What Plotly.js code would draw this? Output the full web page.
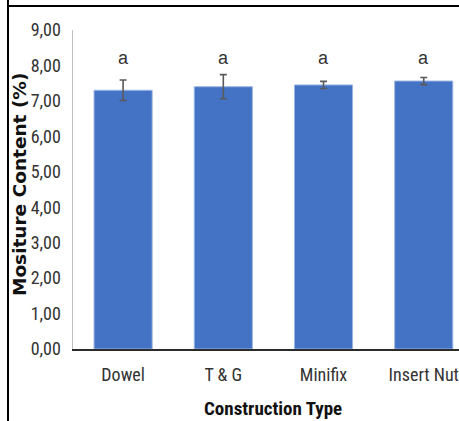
<!DOCTYPE html>
<html>
<head>
<meta charset="utf-8">
<script src="https://cdn.plot.ly/plotly-3.0.1.min.js"></script>
<style>
  html, body { margin: 0; padding: 0; background: #fff; }
  #chart { width: 459px; height: 421px; }
</style>
</head>
<body>
<div id="chart"></div>
<script>
// Moisture content by construction type (mean ± sd), with significance letters
const categories = ['Dowel', 'T & G', 'Minifix', 'Insert Nut'];
const moisture = [7.30, 7.40, 7.45, 7.56];
const stdDev = [0.29, 0.34, 0.10, 0.10];
const groupLetters = ['a', 'a', 'a', 'a'];
const letterLevel = 8.22;
const yTicks = [0, 1, 2, 3, 4, 5, 6, 7, 8, 9];
const yTickText = yTicks.map(v => v.toFixed(2).replace('.', ','));
const xTitle = 'Construction Type';
const yTitle = 'Mositure Content (%)';

const narrow = '"Roboto Condensed", "Liberation Sans Narrow", "Arial Narrow", Roboto, Arial, sans-serif';

// plot area: 386 px wide (category step ~100 px), 319 px tall
const plotW = 386, plotH = 319;

const trace = {
  type: 'bar',
  x: categories,
  y: moisture,
  width: 0.58,
  marker: { color: '#4472C4', line: { color: '#9db5e3', width: 1 } },
  error_y: {
    type: 'data',
    array: stdDev,
    visible: true,
    color: '#5a5a5a',
    thickness: 1.6,
    width: 3.5
  },
  hoverinfo: 'none'
};

const letterNotes = categories.map((c, i) => ({
  x: c,
  y: letterLevel,
  xref: 'x',
  yref: 'y',
  text: groupLetters[i],
  showarrow: false,
  yanchor: 'middle',
  font: { family: '"Liberation Sans", Arial, sans-serif', size: 18, color: '#333' }
}));

const titleNotes = [
  {
    // x-axis title, centred on the full category band
    x: (273 - 73) / plotW, y: -(408 - 349) / plotH,
    xref: 'paper', yref: 'paper',
    xanchor: 'center', yanchor: 'middle',
    text: '<b>' + xTitle + '</b>',
    showarrow: false,
    font: { family: narrow, size: 19, color: '#111' }
  },
  {
    // y-axis title, rotated
    x: (19 - 73) / plotW, y: (349 - 185) / plotH,
    xref: 'paper', yref: 'paper',
    xanchor: 'center', yanchor: 'middle',
    textangle: -90,
    text: '<b>' + yTitle + '</b>',
    showarrow: false,
    font: { family: '"DejaVu Sans", Verdana, sans-serif', size: 18.5, color: '#111' }
  }
];

const layout = {
  width: 459,
  height: 421,
  margin: { l: 73, r: 0, t: 30, b: 72 },
  paper_bgcolor: '#fff',
  plot_bgcolor: '#fff',
  showlegend: false,
  xaxis: {
    type: 'category',
    range: [-0.5, 3.352],
    showgrid: false,
    zeroline: false,
    showline: true,
    linecolor: '#2b2b2b',
    linewidth: 1.5,
    ticks: 'outside',
    ticklen: 9,
    tickcolor: 'rgba(0,0,0,0)',
    tickfont: { family: narrow, size: 18, color: '#333' }
  },
  yaxis: {
    range: [0, 9],
    tickvals: yTicks,
    ticktext: yTickText,
    showgrid: false,
    zeroline: false,
    showline: true,
    linecolor: '#bfbfbf',
    linewidth: 1.5,
    ticks: 'outside',
    ticklen: 7,
    tickcolor: 'rgba(0,0,0,0)',
    tickfont: { family: narrow, size: 18, color: '#333' }
  },
  annotations: letterNotes.concat(titleNotes),
  shapes: [
    { type: 'line', xref: 'paper', yref: 'paper', x0: -65 / plotW, x1: -65 / plotW, y0: 1.2, y1: -0.3,
      line: { color: '#000', width: 2 } },
    { type: 'line', xref: 'paper', yref: 'paper', x0: -65 / plotW, x1: 1.1, y0: 1 + 24 / plotH, y1: 1 + 24 / plotH,
      line: { color: '#000', width: 2 } }
  ]
};

Plotly.newPlot('chart', [trace], layout, { staticPlot: true, displayModeBar: false });
</script>
</body>
</html>
